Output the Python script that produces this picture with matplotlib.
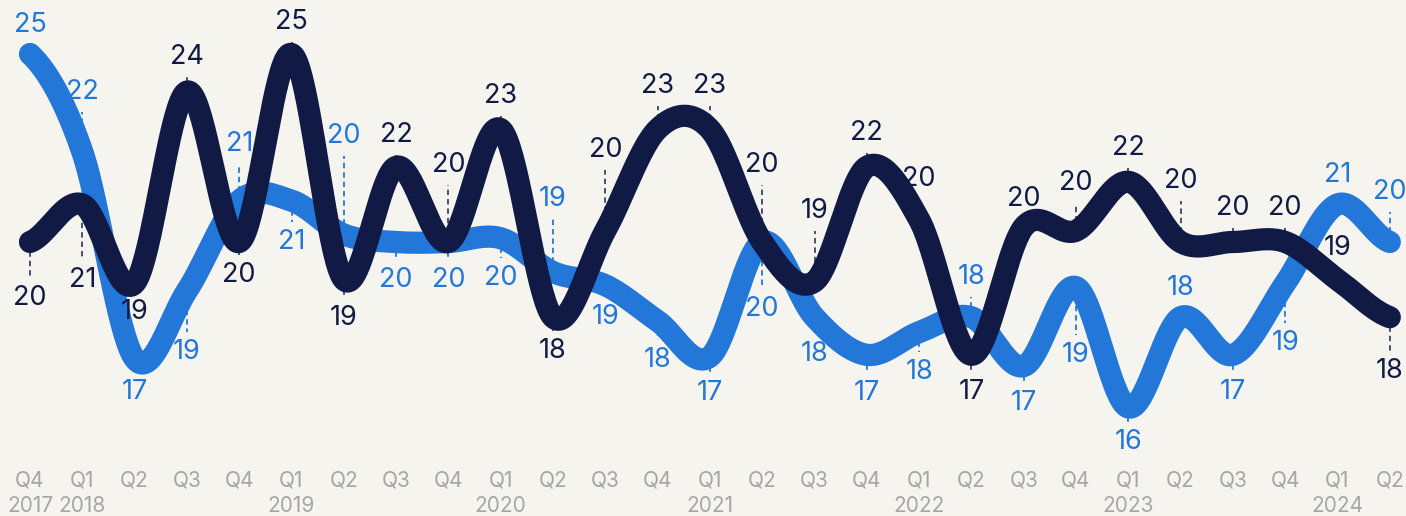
import numpy as np
import matplotlib
matplotlib.use("Agg")
import matplotlib.pyplot as plt

# ---------------- data ----------------
quarters = ["Q4", "Q1", "Q2", "Q3", "Q4", "Q1", "Q2", "Q3", "Q4", "Q1", "Q2", "Q3", "Q4",
            "Q1", "Q2", "Q3", "Q4", "Q1", "Q2", "Q3", "Q4", "Q1", "Q2", "Q3", "Q4", "Q1", "Q2"]
years = ["2017", "2018", "", "", "", "2019", "", "", "", "2020", "", "", "",
         "2021", "", "", "", "2022", "", "", "", "2023", "", "", "", "2024", ""]

blue_values = [25.0, 22.4, 16.9, 18.7, 21.1, 21.1, 20.2, 20.0, 20.0, 20.1, 19.2, 18.85, 17.9,
               16.95, 20.0, 18.0, 17.0, 17.6, 18.0, 16.7, 18.8, 15.6, 18.0, 17.0, 18.9, 21.0, 20.0]
dark_values = [20.0, 21.0, 18.9, 24.0, 20.0, 25.0, 19.0, 22.0, 20.0, 23.0, 18.0, 20.3, 23.0,
               23.0, 20.0, 18.95, 22.0, 20.6, 17.0, 20.4, 20.3, 21.6, 20.0, 20.0, 20.0, 19.0, 18.0]
blue_labels = [25, 22, 17, 19, 21, 21, 20, 20, 20, 20, 19, 19, 18,
               17, 20, 18, 17, 18, 18, 17, 19, 16, 18, 17, 19, 21, 20]
dark_labels = [20, 21, 19, 24, 20, 25, 19, 22, 20, 23, 18, 20, 23,
               23, 20, 19, 22, 20, 17, 20, 20, 22, 20, 20, 20, 19, 18]

# ---------------- layout (label offsets in pixels, + = above) ----------------
blue_off = [29, 60, -33, -61, 57, -41, 98, -38, -38, -40, 73, -32, -39,
            -36, -67, -37, -38, -40, 40, -37, -68, -35, 29, -37, -60, 29, 50]
dark_off = [-56, -76, -29, 35, -33, 32, -38, 32, 77, 33, -34, 81, 43,
            43, 77, 70, 34, 40, -37, 28, 48, 34, 61, 34, 34, 32, -54]

BG = "#f5f4ef"
BLUE = "#2277d8"
DARK = "#111a45"
GREY = "#a6a6a6"
FONT = ["Inter", "DejaVu Sans"]

PX_X = 52.3   # pixels per quarter
PX_Y = 37.6   # pixels per unit


def catmull_rom(y, n=40):
    y = np.asarray(y, float)
    N = len(y)
    m = np.zeros(N)
    m[1:-1] = (y[2:] - y[:-2]) / 2.0
    m[0] = (y[1] - y[0]) / 2.0
    m[-1] = (y[-1] - y[-2]) / 2.0
    xs, ys = [], []
    for i in range(N - 1):
        t = np.linspace(0, 1, n, endpoint=(i == N - 2))
        h00 = 2 * t**3 - 3 * t**2 + 1
        h10 = t**3 - 2 * t**2 + t
        h01 = -2 * t**3 + 3 * t**2
        h11 = t**3 - t**2
        ys.append(h00 * y[i] + h10 * m[i] + h01 * y[i + 1] + h11 * m[i + 1])
        xs.append(i + t)
    return np.concatenate(xs), np.concatenate(ys)


fig = plt.figure(figsize=(14.06, 5.16), dpi=100, facecolor=BG)
ax = fig.add_axes([0, 0, 1, 1])
ax.set_facecolor(BG)
ax.set_xlim(-30 / PX_X, (1406 - 30) / PX_X)
ax.set_ylim(20 - (516 - 242) / PX_Y, 20 + 242 / PX_Y)
ax.axis("off")

# leaders and labels
for vals, labs, offs, col, lcol in [(blue_values, blue_labels, blue_off, BLUE, BLUE),
                                    (dark_values, dark_labels, dark_off, DARK, "#3c4363")]:
    for i, (v, lab, off) in enumerate(zip(vals, labs, offs)):
        s = 1 if off > 0 else -1
        y_end = v + (off - s * 20) / PX_Y
        if abs(off) > 22:
            ax.plot([i, i], [v, y_end], color=lcol, lw=1.3, ls=(0, (3, 2.2)), zorder=1)
        ax.annotate(str(lab), (i, v), xytext=(0, off), textcoords="offset pixels",
                    ha="center", va="center", fontsize=19.5, color=col,
                    family=FONT, zorder=6)

bx, by = catmull_rom(blue_values)
dx, dy = catmull_rom(dark_values)
ax.plot(bx, by, color=BLUE, lw=16, solid_capstyle="round", solid_joinstyle="round", zorder=3)
ax.plot(dx, dy, color=DARK, lw=16, solid_capstyle="round", solid_joinstyle="round", zorder=4)

xt = ax.get_xaxis_transform()
for i, (q, yr) in enumerate(zip(quarters, years)):
    ax.text(i, 1 - 480 / 516, q, transform=xt, ha="center", va="center",
            fontsize=15, color=GREY, family=FONT)
    if yr:
        ax.text(i, 1 - 506 / 516, yr, transform=xt, ha="center", va="center",
                fontsize=15, color=GREY, family=FONT)

fig.savefig("out.png", dpi=100, facecolor=BG)
